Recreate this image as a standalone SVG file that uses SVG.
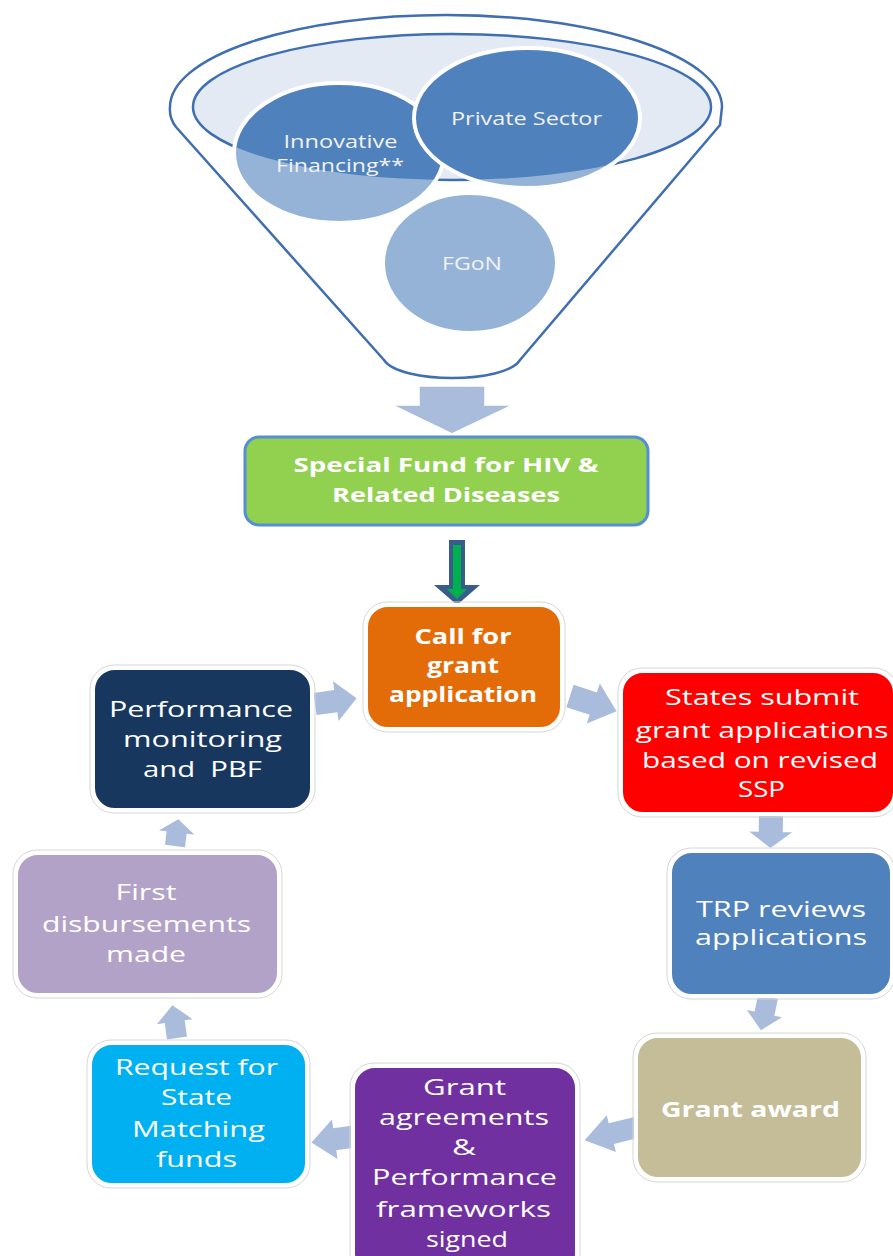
<svg xmlns="http://www.w3.org/2000/svg" width="893" height="1256" viewBox="0 0 893 1256">
<style>
.funnel{fill:#fff;stroke:#3F6FB0;stroke-width:2.5}
.inner{fill:#E4EAF4;stroke:#3F6FB0;stroke-width:2.5}
.light{fill:#95B3D7}
.dark{fill:#4F81BD}
.ring{fill:none;stroke:#fff;stroke-width:4}
.ctext{font-family:"Open Sans",sans-serif;font-size:18px;fill:#F2F2F2;text-anchor:middle}
.box{stroke:#fff;stroke-width:4}
.frame{fill:none;stroke:#D6D6D6;stroke-width:1}
.t{font-family:"Open Sans",sans-serif;font-size:21.5px;fill:#fff;text-anchor:middle}
.b{font-weight:bold}
.arr{fill:#A9BCDB}
</style>
<defs>
<path id="ar" d="M0,-0.28 L0.5,-0.28 L0.5,-0.5 L1,0 L0.5,0.5 L0.5,0.28 L0,0.28 Z"/>
<clipPath id="innerClip"><ellipse cx="452" cy="107" rx="259" ry="73"/></clipPath>
</defs>
<g id="funnel">
<path class="funnel" d="M170,107 A276,92 0 0 1 722,107 L720,125 L520,360 C505,384 400,384 384,360 L176,127 Q169,118 170,107 Z"/>
<ellipse class="inner" cx="452" cy="107" rx="259" ry="73"/>
</g>
<g id="innovative">
<ellipse class="light" cx="339" cy="153" rx="105" ry="70"/>
<ellipse class="dark" cx="339" cy="153" rx="105" ry="70" clip-path="url(#innerClip)"/>
<ellipse class="ring" cx="339" cy="153" rx="105" ry="70"/>
<text class="ctext" x="340.5" y="148" textLength="114" lengthAdjust="spacingAndGlyphs">Innovative</text>
<text class="ctext" x="340" y="172" textLength="128" lengthAdjust="spacingAndGlyphs">Financing**</text>
</g>
<g id="private">
<ellipse class="light" cx="527" cy="118" rx="113" ry="70"/>
<ellipse class="dark" cx="527" cy="118" rx="113" ry="70" clip-path="url(#innerClip)"/>
<ellipse class="ring" cx="527" cy="118" rx="113" ry="70"/>
<text class="ctext" x="526.5" y="125" textLength="151" lengthAdjust="spacingAndGlyphs">Private Sector</text>
</g>
<g id="fgon">
<ellipse class="light" cx="470" cy="263" rx="87" ry="70"/>
<ellipse class="ring" cx="470" cy="263" rx="87" ry="70"/>
<text class="ctext" x="472" y="270" textLength="60" lengthAdjust="spacingAndGlyphs">FGoN</text>
</g>
<g id="connectors">
<path d="M419,386 L485,386 L485,405 L513,405 L452,434 L392,405 L419,405 Z" fill="#A9BCDB" stroke="#fff" stroke-width="1.5"/>
<path d="M449,540 L465,540 L465,585 L480,585 L457,605 L434,585 L449,585 Z" fill="#385D8A"/>
<path d="M453,545 L461,545 L461,589 L467,589 L457,599 L447,589 L453,589 Z" fill="#00B050"/>
<use href="#ar" class="arr" transform="translate(315,704) rotate(-8) scale(42,40)"/>
<use href="#ar" class="arr" transform="translate(570,696) rotate(18) scale(49,42)"/>
<use href="#ar" class="arr" transform="translate(771,816) rotate(91) scale(32,43)"/>
<use href="#ar" class="arr" transform="translate(768,997) rotate(102) scale(34,36)"/>
<use href="#ar" class="arr" transform="translate(638,1127) rotate(166) scale(55,38)"/>
<use href="#ar" class="arr" transform="translate(358,1136) rotate(172) scale(47,40)"/>
<use href="#ar" class="arr" transform="translate(177,1038) rotate(-98) scale(33,36)"/>
<use href="#ar" class="arr" transform="translate(175,846) rotate(-83) scale(27,36)"/>
</g>
<g id="special-fund">
<rect x="245" y="437" width="403" height="88" rx="14" fill="#92D050" stroke="#558ED5" stroke-width="3"/>
<text class="t b" x="446" y="472" style="font-size:20px" textLength="305" lengthAdjust="spacingAndGlyphs">Special Fund for HIV &amp;</text>
<text class="t b" x="446" y="502" style="font-size:20px" textLength="228" lengthAdjust="spacingAndGlyphs">Related Diseases</text>
</g>
<g id="call">
<rect class="frame" x="363" y="602" width="202" height="130" rx="24"/>
<rect class="box" x="366" y="605" width="196" height="124" rx="22" fill="#E36C09"/>
<text class="t b" x="463" y="644" textLength="97" lengthAdjust="spacingAndGlyphs">Call for</text>
<text class="t b" x="463" y="673" textLength="72" lengthAdjust="spacingAndGlyphs">grant</text>
<text class="t b" x="463" y="702" textLength="148" lengthAdjust="spacingAndGlyphs">application</text>
</g>
<g id="states">
<rect class="frame" x="618" y="668" width="280" height="149" rx="24"/>
<rect class="box" x="621" y="671" width="274" height="143" rx="22" fill="#FF0000"/>
<text class="t" x="762" y="705" textLength="194" lengthAdjust="spacingAndGlyphs">States submit</text>
<text class="t" x="762" y="738" textLength="253" lengthAdjust="spacingAndGlyphs">grant applications</text>
<text class="t" x="760" y="768" textLength="236" lengthAdjust="spacingAndGlyphs">based on revised</text>
<text class="t" x="761.5" y="797" textLength="47" lengthAdjust="spacingAndGlyphs">SSP</text>
</g>
<g id="trp">
<rect class="frame" x="667" y="848" width="228" height="151" rx="24"/>
<rect class="box" x="670" y="851" width="222" height="145" rx="22" fill="#4F81BD"/>
<text class="t" x="781" y="917" textLength="170" lengthAdjust="spacingAndGlyphs">TRP reviews</text>
<text class="t" x="781" y="945" textLength="172" lengthAdjust="spacingAndGlyphs">applications</text>
</g>
<g id="grant-award">
<rect class="frame" x="633" y="1033" width="233" height="149" rx="24"/>
<rect class="box" x="636" y="1036" width="227" height="143" rx="22" fill="#C4BD97"/>
<text class="t b" x="750.5" y="1117" textLength="179" lengthAdjust="spacingAndGlyphs">Grant award</text>
</g>
<g id="grant-agreements">
<rect class="frame" x="350" y="1063" width="230" height="215" rx="24"/>
<rect class="box" x="353" y="1066" width="224" height="209" rx="22" fill="#7030A0"/>
<text class="t" x="464.5" y="1095" textLength="83" lengthAdjust="spacingAndGlyphs">Grant</text>
<text class="t" x="464" y="1125" textLength="170" lengthAdjust="spacingAndGlyphs">agreements</text>
<text class="t" x="464" y="1155" textLength="24" lengthAdjust="spacingAndGlyphs">&amp;</text>
<text class="t" x="464.5" y="1185" textLength="185" lengthAdjust="spacingAndGlyphs">Performance</text>
<text class="t" x="463.5" y="1217" textLength="175" lengthAdjust="spacingAndGlyphs">frameworks</text>
<text class="t" x="467" y="1247" textLength="82" lengthAdjust="spacingAndGlyphs">signed</text>
</g>
<g id="request">
<rect class="frame" x="87" y="1040" width="223" height="148" rx="24"/>
<rect class="box" x="90" y="1043" width="217" height="142" rx="22" fill="#00B0F0"/>
<text class="t" x="196.5" y="1075" textLength="163" lengthAdjust="spacingAndGlyphs">Request for</text>
<text class="t" x="196.5" y="1105" textLength="71" lengthAdjust="spacingAndGlyphs">State</text>
<text class="t" x="198.5" y="1137" textLength="133" lengthAdjust="spacingAndGlyphs">Matching</text>
<text class="t" x="196.5" y="1167" textLength="81" lengthAdjust="spacingAndGlyphs">funds</text>
</g>
<g id="first">
<rect class="frame" x="13" y="850" width="269" height="148" rx="24"/>
<rect class="box" x="16" y="853" width="263" height="142" rx="22" fill="#B2A2C7"/>
<text class="t" x="146" y="900" textLength="61" lengthAdjust="spacingAndGlyphs">First</text>
<text class="t" x="146.5" y="932" textLength="209" lengthAdjust="spacingAndGlyphs">disbursements</text>
<text class="t" x="146" y="962" textLength="80" lengthAdjust="spacingAndGlyphs">made</text>
</g>
<g id="performance">
<rect class="frame" x="90" y="665" width="225" height="148" rx="24"/>
<rect class="box" x="93" y="668" width="219" height="142" rx="22" fill="#17375E"/>
<text class="t" x="201" y="717" textLength="184" lengthAdjust="spacingAndGlyphs">Performance</text>
<text class="t" x="202.5" y="747" textLength="159" lengthAdjust="spacingAndGlyphs">monitoring</text>
<text class="t" x="202.5" y="777" textLength="119" lengthAdjust="spacingAndGlyphs" xml:space="preserve">and  PBF</text>
</g>
</svg>
